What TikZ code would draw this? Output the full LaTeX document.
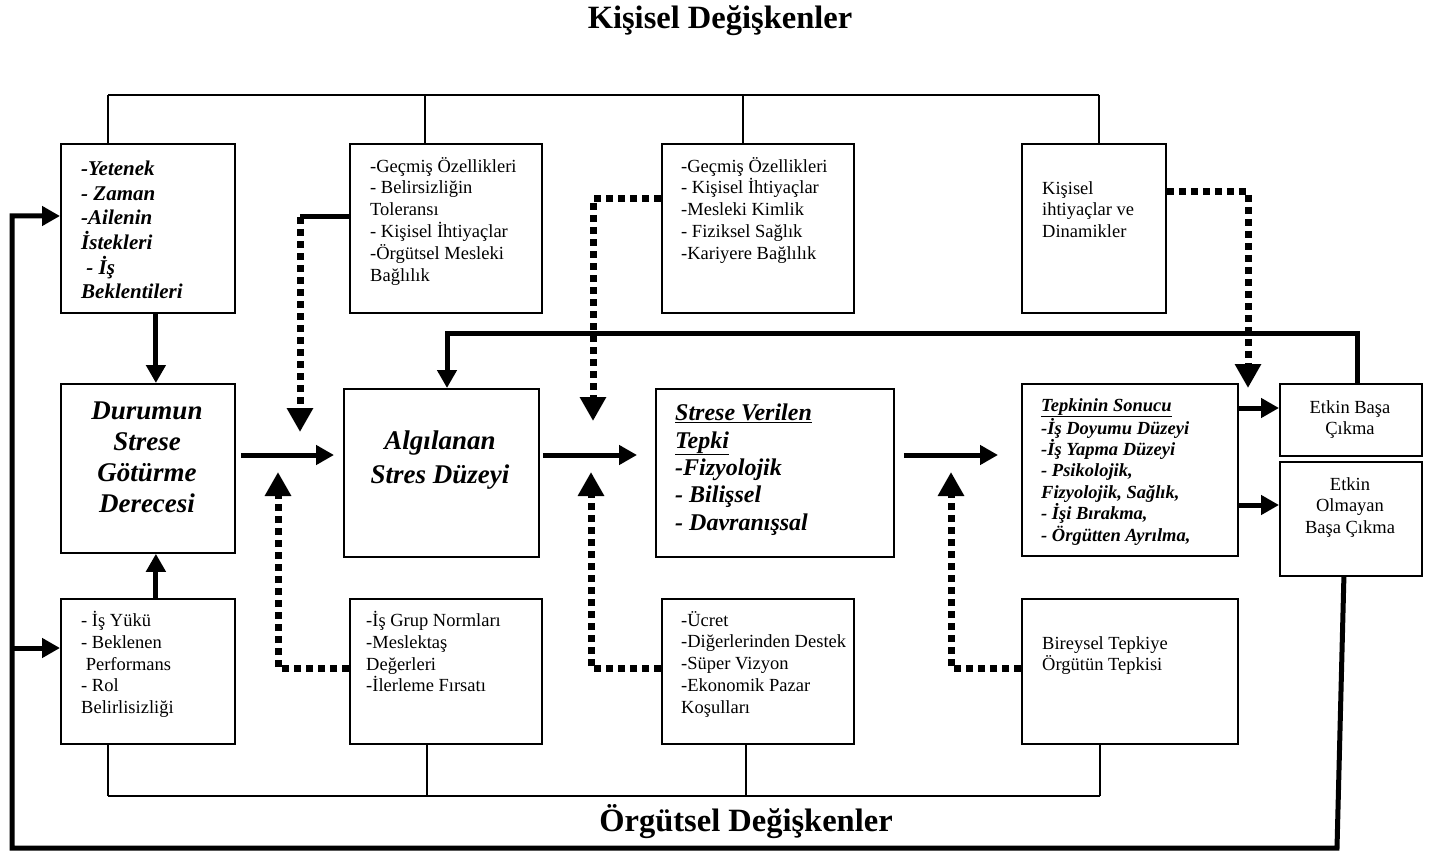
\documentclass[tikz,border=0pt]{standalone}
\usepackage{fontspec}
\setmainfont{Liberation Serif}
\usetikzlibrary{arrows.meta,calc}
\begin{document}
\begin{tikzpicture}[x=1pt,y=-1pt,
  box/.style={draw, line width=1.8pt, inner sep=0pt, anchor=north west},
  txt/.style={inner sep=0pt, anchor=north west, align=left, font=\fontsize{18.5}{21.8}\selectfont},
  ctxt/.style={inner sep=0pt, anchor=north, align=center, font=\fontsize{18.5}{21.8}\selectfont},
  bitxt/.style={inner sep=0pt, anchor=north west, align=left, font=\fontsize{18.5}{21.4}\selectfont\bfseries\itshape},
  bigtxt/.style={inner sep=0pt, anchor=north, align=center, font=\fontsize{27}{31}\selectfont\bfseries\itshape},
  title/.style={inner sep=0pt, font=\fontsize{32.5}{36}\selectfont\bfseries},
  thin/.style={line width=1.5pt},
  heavy/.style={line width=5pt},
  dots/.style={line width=7pt, dash pattern=on 7pt off 5pt},
  harr/.style={-{Triangle[length=18pt,width=19pt]}},
  darr/.style={-{Triangle[length=24pt,width=25pt]}},
]
\useasboundingbox (0,0) rectangle (1440,853);

% titles
\node[title] (ttop) at (720,21) {Kişisel Değişkenler};
\node[title] (tbot) at (746,822) {Örgütsel Değişkenler};

% top row boxes
\node[box, minimum width=174pt, minimum height=169pt] (k1) at (60,143) {};
\node[box, minimum width=192pt, minimum height=169pt] (k2) at (349,143) {};
\node[box, minimum width=192pt, minimum height=169pt] (k3) at (661,143) {};
\node[box, minimum width=144pt, minimum height=169pt] (k4) at (1021,143) {};

% middle row boxes
\node[box, minimum width=174pt, minimum height=169pt] (m1) at (60,383) {};
\node[box, minimum width=195pt, minimum height=168pt] (m2) at (343,388) {};
\node[box, minimum width=238pt, minimum height=168pt] (m3) at (655,388) {};
\node[box, minimum width=216pt, minimum height=172pt] (m4) at (1021,383) {};
\node[box, minimum width=142pt, minimum height=72pt] (e1) at (1279,383) {};
\node[box, minimum width=142pt, minimum height=114pt] (e2) at (1279,461) {};

% bottom row boxes
\node[box, minimum width=174pt, minimum height=145pt] (o1) at (60,598) {};
\node[box, minimum width=192pt, minimum height=145pt] (o2) at (349,598) {};
\node[box, minimum width=192pt, minimum height=145pt] (o3) at (661,598) {};
\node[box, minimum width=216pt, minimum height=145pt] (o4) at (1021,598) {};

% texts
\node[bitxt, font=\fontsize{21}{24.6}\selectfont\bfseries\itshape] (k1t) at (81,161)
  {-Yetenek\\- Zaman\\-Ailenin\\İstekleri\\\ - İş\\Beklentileri};
\node[txt] (k2t) at (370,157)
  {-Geçmiş Özellikleri\\- Belirsizliğin\\Toleransı\\- Kişisel İhtiyaçlar\\-Örgütsel Mesleki\\Bağlılık};
\node[txt] (k3t) at (681,157)
  {-Geçmiş Özellikleri\\- Kişisel İhtiyaçlar\\-Mesleki Kimlik\\- Fiziksel Sağlık\\-Kariyere Bağlılık};
\node[txt] (k4t) at (1042,181) {Kişisel\\ihtiyaçlar ve\\Dinamikler};

\node[bigtxt] (m1t) at (147,402) {Durumun\\Strese\\Götürme\\Derecesi};
\node[bigtxt, font=\fontsize{27}{34}\selectfont\bfseries\itshape] (m2t) at (440,431) {Algılanan\\Stres Düzeyi};
\node[bitxt, font=\fontsize{24}{27.3}\selectfont\bfseries\itshape] (m3t) at (675,404)
  {\underline{Strese Verilen}\\\underline{Tepki}\\-Fizyolojik\\- Bilişsel\\- Davranışsal};
\node[bitxt] (m4t) at (1041,398)
  {\underline{Tepkinin Sonucu}\\-İş Doyumu Düzeyi\\-İş Yapma Düzeyi\\- Psikolojik,\\Fizyolojik, Sağlık,\\- İşi Bırakma,\\- Örgütten Ayrılma,};
\node[ctxt] (e1t) at (1350,400) {Etkin Başa\\Çıkma};
\node[ctxt] (e2t) at (1350,477) {Etkin\\Olmayan\\Başa Çıkma};

\node[txt] (o1t) at (81,611) {- İş Yükü\\- Beklenen\\\ Performans\\- Rol\\Belirlisizliği};
\node[txt] (o2t) at (366,611) {-İş Grup Normları\\-Meslektaş\\Değerleri\\-İlerleme Fırsatı};
\node[txt] (o3t) at (681,611) {-Ücret\\-Diğerlerinden Destek\\-Süper Vizyon\\-Ekonomik Pazar\\Koşulları};
\node[txt] (o4t) at (1042,636) {Bireysel Tepkiye\\Örgütün Tepkisi};

% top bracket
\coordinate (ka) at (108,95);
\coordinate (kb) at (425,95);
\coordinate (kc) at (743,95);
\coordinate (kd) at (1099,95);
\draw[thin] (ka) -- (kd);
\draw[thin] (ka) -- (ka |- k1.north);
\draw[thin] (kb) -- (kb |- k2.north);
\draw[thin] (kc) -- (kc |- k3.north);
\draw[thin] (kd) -- (kd |- k4.north);

% bottom bracket
\coordinate (oa) at (108,796);
\coordinate (ob) at (427,796);
\coordinate (oc) at (746,796);
\coordinate (od) at (1100,796);
\draw[thin] (oa) -- (od);
\draw[thin] (o1.south -| oa) -- (oa);
\draw[thin] (o2.south -| ob) -- (ob);
\draw[thin] (o3.south -| oc) -- (oc);
\draw[thin] (o4.south -| od) -- (od);

% vertical heavy arrows into m1
\draw[heavy,harr] ($(k1.south)+(8,0)$) -- ($(m1.north)+(8,0)$);
\draw[heavy,harr] ($(o1.north)+(8,0)$) -- ($(m1.south)+(8,0)$);

% main horizontal arrows
\coordinate (lv) at (0,455);
\draw[heavy,harr] ($(m1.east |- lv)+(5,0)$) -- ($(m2.west |- lv)+(-9,0)$);
\draw[heavy,harr] ($(m2.east |- lv)+(3,0)$) -- ($(m3.west |- lv)+(-18,0)$);
\draw[heavy,harr] ($(m3.east |- lv)+(9,0)$) -- ($(m4.west |- lv)+(-23,0)$);
\coordinate (le1) at (0,408);
\coordinate (le2) at (0,505);
\draw[heavy,harr] (m4.east |- le1) -- (e1.west |- le1);
\draw[heavy,harr] (m4.east |- le2) -- (e2.west |- le2);

% feedback loop top
\coordinate (fb) at (447,333);
\draw[heavy,harr] ($(e1.north)+(7,0)$) |- (fb) -- (fb |- m2.north);

% big outer loop
\coordinate (lb1) at (1337,848);
\coordinate (lb2) at (12,848);
\coordinate (lb3) at (12,216);
\coordinate (lb4) at (12,648);
\draw[heavy,harr] ($(e2.south)+(-7,0)$) -- (lb1) -- (lb2) -- (lb3) -- (lb3 -| k1.west);
\draw[heavy,harr] (lb4) -- (lb4 -| o1.west);

% dotted influences from top
\coordinate (d2) at (300,217);
\coordinate (d2e) at (300,432);
\draw[heavy] (k2.west |- d2) -- (d2);
\draw[dots,darr] (d2) -- (d2e);
\coordinate (d3) at (593,199);
\coordinate (d3e) at (593,421);
\draw[dots,darr] (k3.west |- d3) -- (d3) -- (d3e);
\coordinate (d4) at (1248,192);
\coordinate (d4e) at (1248,388);
\draw[dots,darr] (k4.east |- d4) -- (d4) -- (d4e);

% dotted influences from bottom
\coordinate (u2) at (278,668);
\coordinate (u2e) at (278,472);
\draw[dots,darr] (o2.west |- u2) -- (u2) -- (u2e);
\coordinate (u3) at (591,668);
\coordinate (u3e) at (591,472);
\draw[dots,darr] (o3.west |- u3) -- (u3) -- (u3e);
\coordinate (u4) at (951,668);
\coordinate (u4e) at (951,472);
\draw[dots,darr] (o4.west |- u4) -- (u4) -- (u4e);
\end{tikzpicture}
\end{document}
